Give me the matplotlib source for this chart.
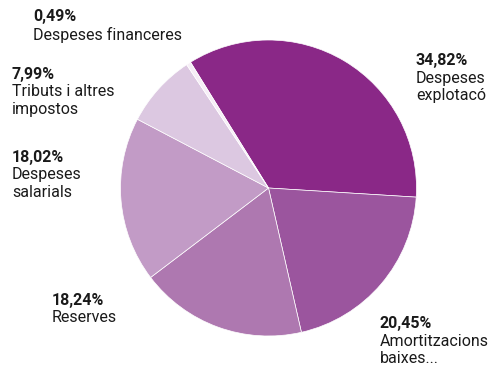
import matplotlib
matplotlib.use("Agg")
import matplotlib.pyplot as plt

# cost breakdown shares (percent), clockwise from the top
shares = [34.82, 20.45, 18.24, 18.02, 7.99, 0.49]
pct_labels = ["34,82%", "20,45%", "18,24%", "18,02%", "7,99%", "0,49%"]
names = [
    "Despeses\nexplotacó",
    "Amortitzacions\nbaixes...",
    "Reserves",
    "Despeses\nsalarials",
    "Tributs i altres\nimpostos",
    "Despeses financeres",
]
colors = ["#8a2887", "#9b559e", "#ae78b0", "#c29bc6", "#dcc8e1", "#f6eef6"]

# label anchors in pixels (left, top)
label_pos = [(416, 53), (380, 316), (52, 293), (12, 150), (12, 67), (33, 9)]

W, H = 493, 366
plt.rcParams["font.family"] = ["Roboto", "DejaVu Sans"]

fig = plt.figure(figsize=(W / 100, H / 100), dpi=100)
fig.patch.set_facecolor("white")

cx, cy, r = 268.5, 188, 148
ax = fig.add_axes([(cx - r) / W, (H - cy - r) / H, 2 * r / W, 2 * r / H])
ax.pie(shares, colors=colors, startangle=121.8, counterclock=False,
       wedgeprops=dict(edgecolor="white", linewidth=0.5))
ax.set_xlim(-1, 1)
ax.set_ylim(-1, 1)
ax.set_aspect("equal")
ax.axis("off")

for pct, name, (px, py) in zip(pct_labels, names, label_pos):
    fig.text(px / W, 1 - py / H, pct, ha="left", va="top",
             fontsize=11.5, fontweight="bold", color="#1a1a1a")
    fig.text(px / W, 1 - (py + 17.5) / H, name, ha="left", va="top",
             fontsize=11.5, color="#1a1a1a", linespacing=1.2)

fig.savefig("out.png", dpi=100)
